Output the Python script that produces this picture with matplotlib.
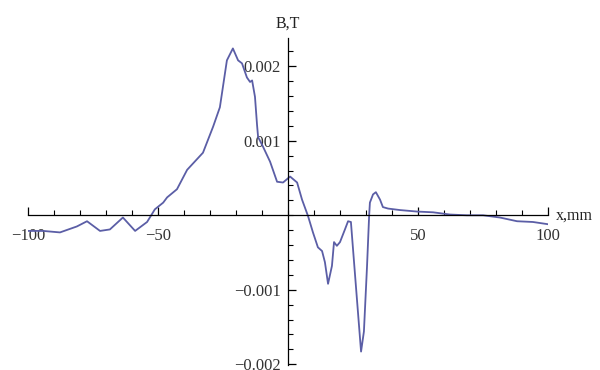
import matplotlib
matplotlib.use("Agg")
import matplotlib.pyplot as plt
import matplotlib.ticker as ticker

x_mm = [-100, -94.2, -87.7, -81.2, -77.3, -72.3, -68.5, -63.5, -58.8, -54.2,
        -51.2, -48.0, -46.5, -42.7, -38.8, -32.7, -28.8, -26.2, -23.5, -21.2,
        -19.2, -17.7, -15.8, -14.6, -13.8, -12.7, -11.9, -11.5, -9.6, -6.9,
        -4.2, -1.9, 0.8, 3.5, 5.4, 7.7, 9.6, 11.5, 13.1, 14.2,
        15.4, 16.9, 17.7, 18.8, 20.0, 21.9, 23.1, 24.2, 25.0, 26.5,
        28.1, 29.2, 30.4, 31.2, 31.5, 32.7, 33.8, 35.4, 36.5, 38.5,
        43.1, 49.6, 55.8, 62.3, 68.8, 75.0, 81.5, 88.1, 94.2, 100]
b_t = [-0.00021, -0.00021, -0.00023, -0.00015, -0.00008, -0.00021, -0.00019, -0.00003, -0.00021, -0.00009,
       0.00008, 0.00017, 0.00024, 0.00035, 0.00061, 0.00084, 0.00119, 0.00145, 0.00208, 0.00224,
       0.00208, 0.00204, 0.00185, 0.00179, 0.00181, 0.00159, 0.00121, 0.00105, 0.00092, 0.00072,
       0.00045, 0.00044, 0.00052, 0.00044, 0.00021, -0.00001, -0.00023, -0.00043, -0.00048, -0.00063,
       -0.00092, -0.00068, -0.00036, -0.00041, -0.00036, -0.00019, -0.00008, -0.00009, -0.00045, -0.00112,
       -0.00183, -0.00156, -0.00068, -0.00001, 0.00017, 0.00028, 0.00031, 0.00021, 0.00011, 0.00009,
       0.00007, 0.00005, 0.00004, 0.00001, 0.0, 0.0, -0.00003, -0.00008, -0.00009, -0.00012]

x_ticks = [-100, -50, 50, 100]
x_ticklabels = ["\u2212100", "\u221250", "50", "100"]
y_ticks = [-0.002, -0.001, 0.001, 0.002]
y_ticklabels = ["\u22120.002", "\u22120.001", "0.001", "0.002"]

plt.rcParams["font.family"] = ["Liberation Serif", "DejaVu Serif"]

fig = plt.figure(figsize=(6, 3.7), dpi=100)
ax = fig.add_axes([28 / 600, 5 / 370, 520 / 600, 327 / 370])

ax.plot(x_mm, b_t, color="#5b5ea6", lw=1.3)

ax.set_xlim(-100, 100)
ax.set_ylim(-0.00201, 0.00238)

# Mathematica-style axes through the origin
ax.spines["left"].set_position(("data", 0))
ax.spines["bottom"].set_position(("data", 0))
ax.spines["top"].set_visible(False)
ax.spines["right"].set_visible(False)
for s in ("left", "bottom"):
    ax.spines[s].set_linewidth(0.9)

ax.set_xticks(x_ticks)
ax.set_xticklabels(x_ticklabels)
ax.set_yticks(y_ticks)
ax.set_yticklabels(y_ticklabels)
ax.xaxis.set_minor_locator(ticker.MultipleLocator(10))
ax.yaxis.set_minor_locator(ticker.MultipleLocator(0.0002))

ax.tick_params(which="major", direction="in", length=6, width=0.9,
               labelsize=12, labelcolor="#333333")
ax.tick_params(which="minor", direction="in", length=3.5, width=0.8)
ax.tick_params(axis="x", which="major", pad=9)
ax.tick_params(axis="y", which="major", pad=5)

ax.text(0, 0.00247, "B,T", ha="center", va="bottom", fontsize=11.5, color="#222222")
ax.text(103, 0, "x,mm", ha="left", va="center", fontsize=11.5, color="#222222",
        clip_on=False)

fig.savefig("out.png", dpi=100)
